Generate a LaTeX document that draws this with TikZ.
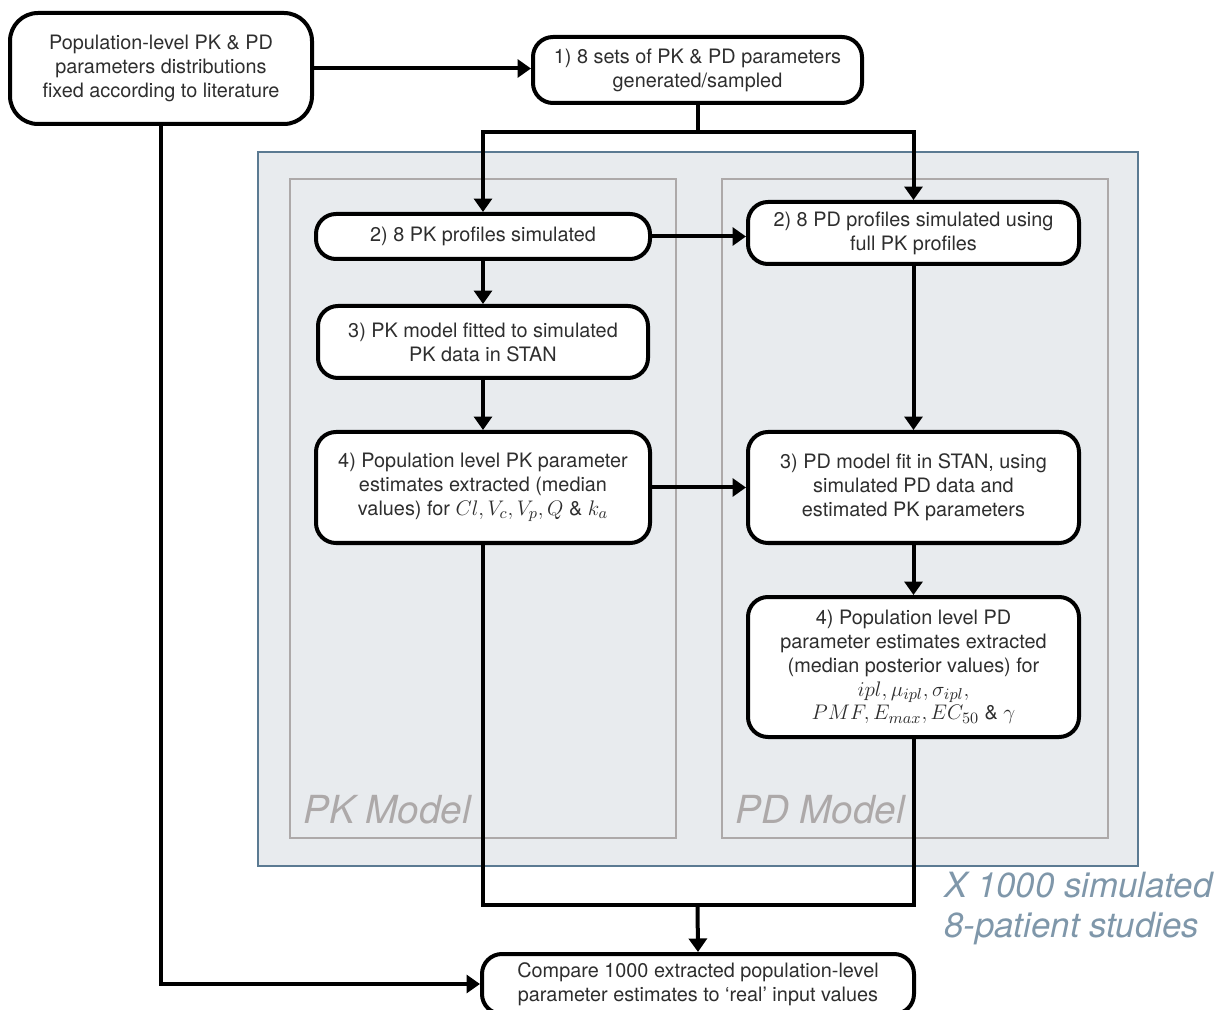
\documentclass[tikz,border=0pt]{standalone}
\usepackage{fontspec}
\setmainfont{TeX Gyre Heros}
\usepackage{amsmath}
\usepackage{xcolor}
\usetikzlibrary{arrows.meta}
\usetikzlibrary{positioning}
\newdimen\px
\px=0.02cm
\definecolor{boxtext}{HTML}{2E2E2E}
\definecolor{simfill}{HTML}{E8EBEE}
\definecolor{simdraw}{HTML}{5B7A92}
\definecolor{framegrey}{HTML}{ADA9A9}
\definecolor{simtext}{HTML}{7F97AA}
\newcommand{\bigmath}[1]{{\fontsize{12.8}{13.6}\selectfont$#1$}}
\tikzset{
stage/.style={
  draw,
  line width=4\px,
  rounded corners=20\px,
  fill=white,
  align=center,
  text=boxtext,
  inner sep=0pt,
  font=\fontsize{11.3}{13.6}\selectfont
},
flow/.style={line width=4\px,-{Triangle[width=0.36cm,length=0.27cm]}},
link/.style={line width=4\px},
frame/.style={draw=framegrey,line width=2.5\px},
modellabel/.style={text=framegrey,anchor=base west,inner sep=0pt,
  font=\fontsize{22}{26}\selectfont\itshape},
}

\begin{document}
\begin{tikzpicture}[x=0.02cm,y=-0.02cm]
\useasboundingbox (0,0) rectangle (1215,1010);
% the simulation loop and model frames
\draw[fill=simfill,draw=simdraw,line width=2.5\px] (258,152) rectangle (1138,866);
\draw[frame] (290,179) rectangle (676,838);
\draw[frame] (722,179) rectangle (1108,838);
\node[modellabel] (pklabel) at (303,823) {PK Model};
\node[modellabel] (pdlabel) at (735,823) {PD Model};
\node[text=simtext,anchor=north west,align=left,inner sep=0pt,
  font=\fontsize{19.8}{22.7}\selectfont\itshape] (loops) at (944,872)
  {X 1000 simulated\\8-patient studies};
% the boxes
\node[stage,minimum width=302\px,minimum height=111\px,rounded corners=28\px] (lit) at (161,68.5)
  {Population-level PK \& PD\\parameters distributions\\fixed according to literature};
\node[stage,minimum width=329\px,minimum height=66\px] (gen) at (697.5,70)
  {1) 8 sets of PK \& PD parameters\\generated/sampled};
\node[stage,minimum width=334\px,minimum height=45\px] (pksim) at (483,236.5)
  {2) 8 PK profiles simulated};
\node[stage,minimum width=331\px,minimum height=62\px] (pdsim) at (913.5,233)
  {2) 8 PD profiles simulated using\\full PK profiles};
\node[stage,minimum width=330\px,minimum height=72\px] (pkfit) at (483,342)
  {3) PK model fitted to simulated\\PK data in STAN};
\node[stage,minimum width=334\px,minimum height=111\px] (pkest) at (483,487.5)
  {4) Population level PK parameter\\estimates extracted (median\\values) for \bigmath{Cl, V_c, V_p, Q} \& \bigmath{k_a}};
\node[stage,minimum width=331\px,minimum height=111\px] (pdfit) at (913.5,487.5)
  {3) PD model fit in STAN, using\\simulated PD data and\\estimated PK parameters};
\node[stage,minimum width=331\px,minimum height=140\px] (pdest) at (913.5,667)
  {4) Population level PD\\parameter estimates extracted\\(median posterior values) for\\
   \bigmath{ipl, \mu_{ipl}, \sigma_{ipl},}\\\bigmath{PMF, E_{max}, EC_{50}} \& \bigmath{\gamma}};
\node[stage,minimum width=432\px,minimum height=60\px] (comp) at (698,984)
  {Compare 1000 extracted population-level\\parameter estimates to `real' input values};
% the arrows
\coordinate (split) at (697.5,132);
\coordinate (join) at (697.5,905);
\draw[flow] (lit.east) -- (lit.east -| gen.west);
\draw[flow] (lit.south) |- (comp.west);
\draw[link] (gen.south) -- (split);
\draw[flow] (split) -| (pksim.north);
\draw[flow] (split) -| (pdsim.north);
\draw[flow] (pksim.east) -- (pksim.east -| pdsim.west);
\draw[flow] (pksim) -- (pkfit);
\draw[flow] (pkfit) -- (pkest);
\draw[flow] (pkest) -- (pdfit);
\draw[flow] (pdsim) -- (pdfit);
\draw[flow] (pdfit) -- (pdest);
\draw[link] (pkest.south) |- (pdest.south |- join) -- (pdest.south);
\draw[flow] (join) -- (comp.north);
\end{tikzpicture}
\end{document}
